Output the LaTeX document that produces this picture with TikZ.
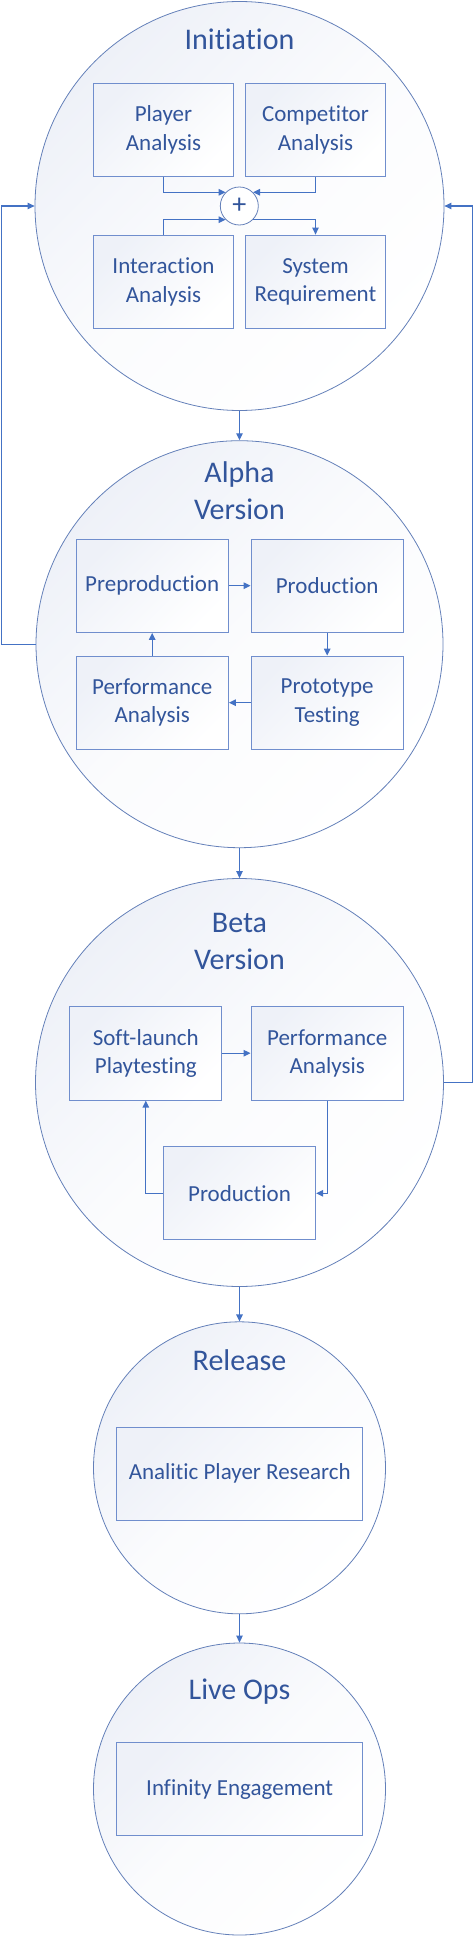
\documentclass[tikz,border=0pt]{standalone}
\usepackage{fontspec}
\setmainfont{Carlito}[Ligatures={NoCommon}]
\usetikzlibrary{arrows.meta,calc}
\definecolor{txt}{RGB}{50,85,155}
\definecolor{conn}{RGB}{68,114,196}
\definecolor{ring}{RGB}{100,128,185}
\definecolor{boxline}{RGB}{112,142,205}
\definecolor{tint}{RGB}{238,241,248}
\tikzset{
  stage/.style={circle, draw=ring, line width=0.8pt, inner sep=0pt, top color=tint, bottom color=white, middle color=white!75!tint, shading angle=45},
  title/.style={text=txt, font=\fontsize{30}{36.6}\selectfont, align=center, anchor=base, inner sep=0pt},
  stepbox/.style={rectangle, draw=boxline, line width=1pt, inner sep=0pt, top color=tint, bottom color=white, shading angle=45, text=txt, font=\fontsize{23}{28.4}\selectfont, align=center},
  conn/.style={draw=conn, line width=1.2pt, -{Triangle[length=7pt,width=6.5pt]}}
}
\begin{document}
\begin{tikzpicture}[x=1pt,y=-1pt]
\useasboundingbox (0,0) rectangle (474,1937);
% stages
\node[stage, minimum size=409pt] (init) at (239.5,206) {};
\node[stage, minimum size=407pt] (alpha) at (239.5,644.2) {};
\node[stage, minimum size=408pt] (beta) at (239.5,1082.5) {};
\node[stage, minimum size=292pt] (rel) at (239.5,1467.8) {};
\node[stage, minimum size=292pt] (live) at (239.5,1789) {};
% titles (base anchor = baseline of the last line)
\node[title] (tinit) at (239.5,49.3) {Initiation};
\node[title] (talpha) at (239.5,519.3) {Alpha\\Version};
\node[title] (tbeta) at (239.5,969.3) {Beta\\Version};
\node[title] (trel) at (239.5,1370) {Release};
\node[title] (tlive) at (239.5,1699) {Live Ops};
% initiation boxes
\node[stepbox, minimum width=140.4pt, minimum height=93.4pt] (pa) at (163.5,130) {Player\\Analysis};
\node[stepbox, minimum width=140.4pt, minimum height=93.4pt] (ca) at (315.5,130) {Competitor\\Analysis};
\node[stepbox, minimum width=140.4pt, minimum height=93.4pt] (ia) at (163.5,281.8) {Interaction\\Analysis};
\node[stepbox, minimum width=140.4pt, minimum height=93.4pt] (sr) at (315.5,281.8) {System\\Requirement};
\node[circle, draw=ring, line width=0.8pt, fill=white, minimum size=38pt, inner sep=0pt, text=txt, font=\fontsize{28}{30}\selectfont] (plus) at (239.3,206) {+};
\draw[conn] (pa.south) |- (plus.135);
\draw[conn] (ca.south) |- (plus.45);
\draw[conn] (ia.north) |- (plus.225);
\draw[conn] (plus.-45) -| (sr.north);
% alpha boxes
\node[stepbox, minimum width=152.3pt, minimum height=93.3pt] (pre) at (152.2,585.7) {Preproduction};
\node[stepbox, minimum width=152.3pt, minimum height=93.3pt] (prod) at (327.2,585.7) {Production};
\node[stepbox, minimum width=152.3pt, minimum height=93.3pt] (perf) at (152.2,702.7) {Performance\\Analysis};
\node[stepbox, minimum width=152.3pt, minimum height=93.3pt] (proto) at (327.2,702.7) {Prototype\\Testing};
\draw[conn] (pre.east) -- (prod.west);
\draw[conn] (prod.south) -- (proto.north);
\draw[conn] (proto.west) -- (perf.east);
\draw[conn] (perf.north) -- (pre.south);
% beta boxes
\node[stepbox, minimum width=152.3pt, minimum height=93.7pt] (soft) at (145.8,1053.2) {Soft-launch\\Playtesting};
\node[stepbox, minimum width=152.3pt, minimum height=93.7pt] (bperf) at (327.2,1053.2) {Performance\\Analysis};
\node[stepbox, minimum width=152.3pt, minimum height=93.3pt] (bprod) at (239.5,1193.3) {Production};
\draw[conn] (soft.east) -- (bperf.west);
\draw[conn] (bperf.south) |- (bprod.east);
\draw[conn] (bprod.west) -| (soft.south);
% release and live ops boxes
\node[stepbox, minimum width=246pt, minimum height=92.7pt] (apr) at (239.7,1473.7) {Analitic Player Research};
\node[stepbox, minimum width=246pt, minimum height=93pt] (ie) at (239.7,1789.2) {Infinity Engagement};
% stage flow
\draw[conn] (init.south) -- (alpha.north);
\draw[conn] (alpha.south) -- (beta.north);
\draw[conn] (beta.south) -- (rel.north);
\draw[conn] (rel.south) -- (live.north);
% feedback loops
\coordinate (lx) at (1.2,0);
\coordinate (rx) at (472.8,0);
\draw[conn] (alpha.west) -- (alpha.west -| lx) -- (init.west -| lx) -- (init.west);
\draw[conn] (beta.east) -- (beta.east -| rx) -- (init.east -| rx) -- (init.east);
\end{tikzpicture}
\end{document}
